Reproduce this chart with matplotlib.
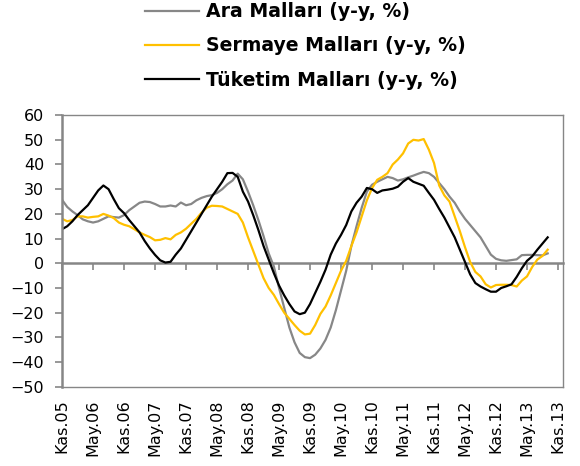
import matplotlib
matplotlib.use("Agg")
import matplotlib.pyplot as plt
import numpy as np

# Aylık yıllık değişim (%), Kasım 2005 - Eylül 2013
ARA = [
    25.7, 22.8, 21.0, 19.5, 17.8, 17.0, 16.5, 17.0, 18.0, 19.0,
    18.7, 18.5, 19.5, 21.5, 23.0, 24.5, 25.0, 24.8, 24.0, 23.0,
    23.0, 23.4, 23.0, 24.6, 23.5, 24.0, 25.5, 26.5, 27.2, 27.6,
    28.5, 30.0, 32.0, 33.5, 36.3, 34.0, 29.0, 23.5, 17.5, 11.0,
    4.0, -1.3, -10.0, -18.0, -26.0, -32.0, -36.3, -38.0, -38.4, -37.0,
    -34.5, -31.0, -26.0, -19.0, -11.0, -3.0, 7.0, 15.0, 22.5, 29.0,
    31.8, 33.0, 34.0, 35.0, 34.5, 33.5, 34.0, 34.8, 35.5, 36.3,
    37.0, 36.5, 35.0, 32.5, 30.0, 27.0, 24.5, 21.0, 18.0, 15.5,
    13.0, 10.5, 7.0, 3.5, 1.8, 1.2, 1.0, 1.3, 1.6, 3.3,
    3.4, 3.4, 3.3, 3.2, 4.0,
]
SERMAYE = [
    18.0, 17.0, 17.5, 19.0, 19.0, 18.5, 18.8, 19.0, 20.0, 19.3,
    18.3, 16.5, 15.6, 15.0, 13.8, 12.5, 11.5, 10.6, 9.3, 9.5,
    10.2, 9.7, 11.5, 12.5, 14.0, 16.0, 18.0, 20.5, 22.5, 23.3,
    23.2, 23.0, 22.0, 21.0, 20.0, 16.5, 10.5, 5.0, -0.5, -6.0,
    -10.0, -12.8, -16.5, -20.0, -22.5, -25.0, -27.3, -28.8, -28.5, -25.0,
    -20.5, -17.5, -13.0, -8.0, -3.0, 1.0, 7.0, 12.5, 19.0, 25.5,
    30.4, 33.8, 35.0, 36.5, 40.0, 42.0, 44.5, 48.5, 50.0, 49.7,
    50.3, 46.0, 40.6, 31.5, 27.5, 25.0, 19.0, 13.0, 6.5, 0.5,
    -3.5, -5.3, -8.5, -9.8, -8.8, -8.7, -8.7, -8.8, -9.4, -7.0,
    -5.3, -1.5, 1.5, 3.0, 5.5,
]
TUKETIM = [
    13.8, 15.0, 17.0, 19.5, 21.5, 23.5, 26.5, 29.5, 31.5, 30.0,
    26.0, 22.3, 20.3, 17.5, 15.0, 12.5, 9.0, 6.0, 3.4, 1.2,
    0.3, 0.6, 3.5, 6.0, 9.5, 13.0, 16.5, 20.0, 23.5, 27.0,
    30.0, 33.0, 36.5, 36.6, 35.0, 29.0, 25.0, 19.5, 13.5, 7.0,
    1.5, -4.0, -9.0, -13.0, -16.5, -19.5, -20.6, -20.0, -16.5, -12.0,
    -7.5, -2.6, 3.5, 8.0, 11.5, 15.5, 21.0, 24.5, 27.0, 30.5,
    30.0, 28.5, 29.5, 29.8, 30.2, 31.0, 33.0, 34.5, 33.0, 32.2,
    31.4, 28.5, 25.7, 22.0, 18.5, 14.5, 10.5, 5.5, 0.5, -4.5,
    -8.0, -9.4, -10.5, -11.5, -11.5, -10.0, -9.3, -8.5, -5.5, -2.0,
    1.0, 2.8, 5.5, 8.0, 10.5,
]

TICK_LABELS = [
    "Kas.05", "May.06", "Kas.06", "May.07", "Kas.07", "May.08",
    "Kas.08", "May.09", "Kas.09", "May.10", "Kas.10", "May.11",
    "Kas.11", "May.12", "Kas.12", "May.13", "Kas.13",
]
SERIES_NAMES = [
    "Ara Malları (y-y, %)",
    "Sermaye Malları (y-y, %)",
    "Tüketim Malları (y-y, %)",
]

GRAY = "#878787"
YELLOW = "#FFC000"
BLACK = "#000000"
AXIS = "#868686"

plt.rcParams["font.family"] = ["DejaVu Sans"]

fig = plt.figure(figsize=(5.8, 4.66), dpi=100)
ax = fig.add_axes([0.107, 0.170, 0.864, 0.583])

months = np.arange(len(ARA))
l1, = ax.plot(months, ARA, color=GRAY, lw=1.6)
l2, = ax.plot(months, SERMAYE, color=YELLOW, lw=1.6)
l3, = ax.plot(months, TUKETIM, color=BLACK, lw=1.6)

ax.set_xlim(0, 97)
ax.set_ylim(-50, 60)
ax.set_yticks(np.arange(-50, 61, 10))
ax.set_xticks(np.arange(len(TICK_LABELS)) * 6)
ax.set_xticklabels(TICK_LABELS, rotation=90)
ax.tick_params(axis="x", length=0, pad=9, labelsize=11.5)
ax.tick_params(axis="y", length=5, width=1.2, color=AXIS, labelsize=11.5, pad=8)

for side in ["top", "right", "bottom"]:
    ax.spines[side].set_color(AXIS)
    ax.spines[side].set_linewidth(1.0)
ax.spines["left"].set_color(AXIS)
ax.spines["left"].set_linewidth(1.8)

# horizontal axis line at zero, ticks pointing down, no labels
zero = ax.secondary_xaxis(50 / 110)
zero.set_xticks(np.arange(len(TICK_LABELS)) * 6)
zero.tick_params(axis="x", direction="out", length=5, width=1.2,
                 color=AXIS, labelbottom=False, labeltop=False)
zero.spines["bottom"].set_color(AXIS)
zero.spines["bottom"].set_linewidth(1.8)
zero.spines["top"].set_visible(False)
zero.xaxis.set_ticks_position("bottom")
zero.set_xticklabels([])

fig.legend([l1, l2, l3], SERIES_NAMES, loc="upper left",
           bbox_to_anchor=(0.25, 0.995), frameon=False,
           prop={"weight": "bold", "size": 13.6},
           handlelength=2.85, handletextpad=0.37, labelspacing=0.8,
           borderaxespad=0, borderpad=0)

fig.savefig("out.png", dpi=100)
